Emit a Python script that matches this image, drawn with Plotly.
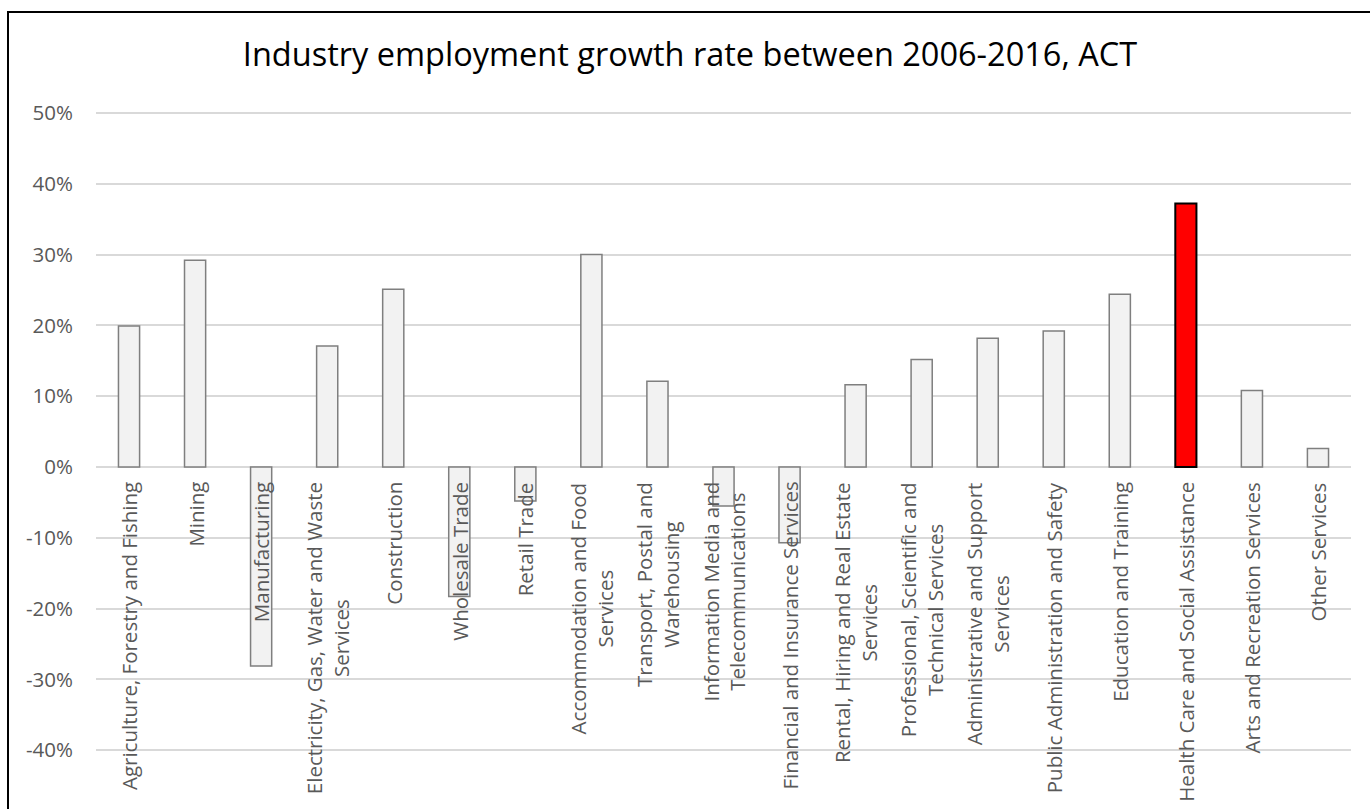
import plotly.graph_objects as go

categories = [
    "Agriculture, Forestry and Fishing",
    "Mining",
    "Manufacturing",
    "Electricity, Gas, Water and Waste<br>Services",
    "Construction",
    "Wholesale Trade",
    "Retail Trade",
    "Accommodation and Food<br>Services",
    "Transport, Postal and<br>Warehousing",
    "Information Media and<br>Telecommunications",
    "Financial and Insurance Services",
    "Rental, Hiring and Real Estate<br>Services",
    "Professional, Scientific and<br>Technical Services",
    "Administrative and Support<br>Services",
    "Public Administration and Safety",
    "Education and Training",
    "Health Care and Social Assistance",
    "Arts and Recreation Services",
    "Other Services",
]
growth = [0.199, 0.292, -0.281, 0.171, 0.251, -0.183, -0.048, 0.300, 0.121,
          -0.055, -0.107, 0.116, 0.152, 0.182, 0.192, 0.244, 0.372, 0.108, 0.026]
highlight = "Health Care and Social Assistance"

tick_values = [-0.4, -0.3, -0.2, -0.1, 0.0, 0.1, 0.2, 0.3, 0.4, 0.5]
tick_labels = ["-40%", "-30%", "-20%", "-10%", "0%", "10%", "20%", "30%", "40%", "50%"]

W, H = 1370, 809
ML, MR, MT, MB = 96, 19, 108, 0
PX_PER_UNIT = 708.0

fill = ["#FF0000" if c == highlight else "#F2F2F2" for c in categories]
edge = ["#000000" if c == highlight else "#7F7F7F" for c in categories]
ewid = [2 if c == highlight else 1.5 for c in categories]

fig = go.Figure()
fig.add_trace(go.Bar(
    x=list(range(len(categories))), y=growth,
    width=0.32,
    marker=dict(color=fill, line=dict(color=edge, width=ewid)),
    hoverinfo="skip",
))

annotations = []
for i, c in enumerate(categories):
    annotations.append(dict(
        x=i, y=0, xref="x", yref="y", text=c, showarrow=False,
        textangle=-90, xanchor="center", yanchor="top", yshift=-13,
        align="center",
        font=dict(family="Open Sans", size=20.5, color="#595959"),
    ))

ph = H - MT - MB
pw = W - ML - MR
top = 0.5 + 5.0 / PX_PER_UNIT
fig.update_layout(
    width=W, height=H,
    margin=dict(l=ML, r=MR, t=MT, b=MB, pad=0),
    paper_bgcolor="white", plot_bgcolor="white",
    showlegend=False,
    title=dict(text="Industry employment growth rate between 2006-2016, ACT",
               x=690 / W, xanchor="center", y=1 - 55 / H, yanchor="middle",
               font=dict(family="Open Sans", size=32.5, color="#000000")),
    xaxis=dict(range=[-0.5, len(categories) - 0.5], showticklabels=False,
               showgrid=False, zeroline=False, showline=False, ticks=""),
    yaxis=dict(range=[top - ph / PX_PER_UNIT, top],
               tickmode="array", tickvals=tick_values, ticktext=tick_labels,
               showgrid=True, gridcolor="#D9D9D9", gridwidth=1.5,
               zeroline=True, zerolinecolor="#D9D9D9", zerolinewidth=1.5,
               showline=False, ticks="", ticklabelstandoff=22,
               tickfont=dict(family="Open Sans", size=20.5, color="#595959")),
    annotations=annotations,
    shapes=[dict(type="rect", xref="paper", yref="paper",
                 x0=(8 - ML) / pw, x1=(1380 - ML) / pw,
                 y0=-0.05, y1=(H - 12) / ph,
                 line=dict(color="black", width=2), fillcolor="rgba(0,0,0,0)",
                 layer="above")],
)

fig.write_html("out.html", config={"displayModeBar": False},
               post_script="document.body.style.margin='0';document.body.style.overflow='hidden';")
